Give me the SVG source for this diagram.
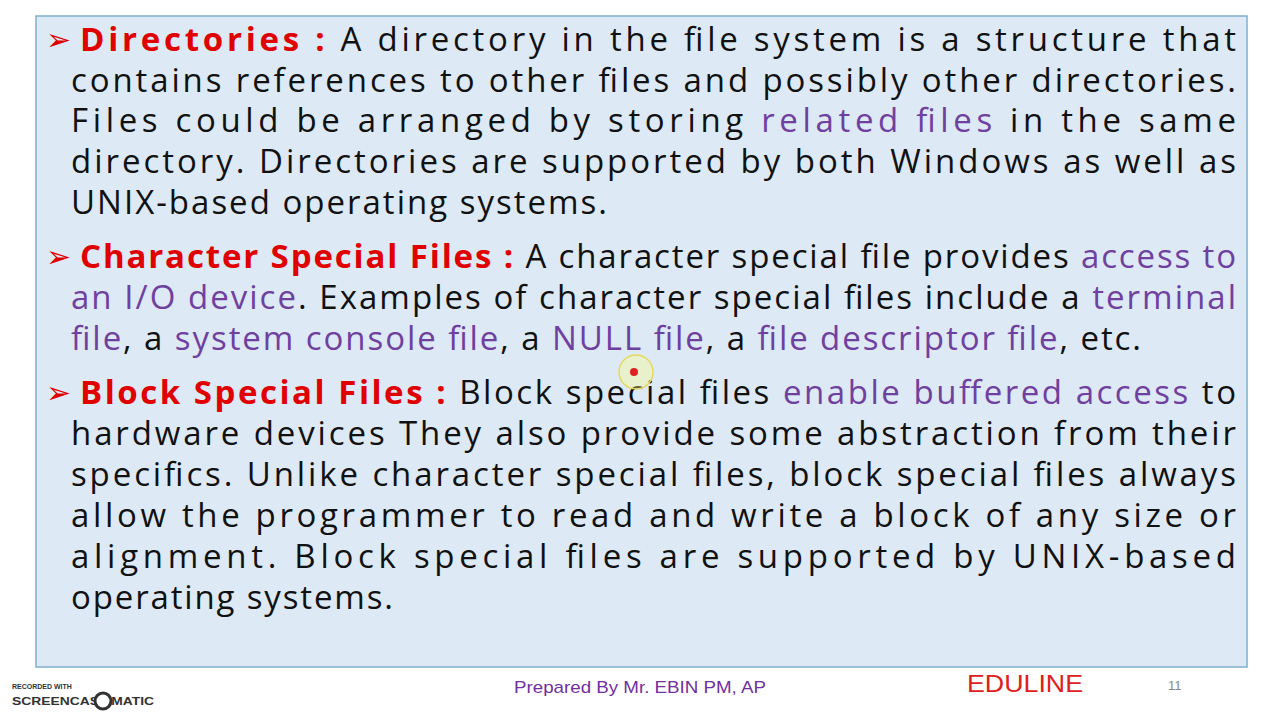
<svg xmlns="http://www.w3.org/2000/svg" width="1280" height="720" viewBox="0 0 1280 720">
<style>
.t{font-family:"Open Sans","Liberation Sans",sans-serif;font-size:33px;fill:#111}
.h{fill:#e00000;font-weight:bold}
.p{fill:#7040a0}
.b{font-family:"DejaVu Sans",sans-serif;font-size:30px;fill:#e00000}
</style>
<rect width="1280" height="720" fill="#fff"/>
<rect x="36" y="16" width="1211" height="651" fill="#dde9f4" stroke="#7fb0cc" stroke-width="1.5"/>
<g id="directories">
<text class="b" x="46" y="50">➢</text>
<text class="t" x="80" y="51" textLength="1156" lengthAdjust="spacing"><tspan class="h">Directories :</tspan> A directory in the file system is a structure that</text>
<text class="t" x="71" y="92" textLength="1165" lengthAdjust="spacing">contains references to other files and possibly other directories.</text>
<text class="t" x="71" y="132" textLength="1165" lengthAdjust="spacing">Files could be arranged by storing <tspan class="p">related files</tspan> in the same</text>
<text class="t" x="71" y="173" textLength="1165" lengthAdjust="spacing">directory. Directories are supported by both Windows as well as</text>
<text class="t" x="71" y="214" textLength="536" lengthAdjust="spacing">UNIX-based operating systems.</text>
</g>
<g id="character">
<text class="b" x="46" y="267">➢</text>
<text class="t" x="80" y="268" textLength="1156" lengthAdjust="spacing"><tspan class="h">Character Special Files :</tspan> A character special file provides <tspan class="p">access to</tspan></text>
<text class="t" x="71" y="309" textLength="1165" lengthAdjust="spacing"><tspan class="p">an I/O device</tspan>. Examples of character special files include a <tspan class="p">terminal</tspan></text>
<text class="t" x="71" y="350" textLength="1070" lengthAdjust="spacing"><tspan class="p">file</tspan>, a <tspan class="p">system console file</tspan>, a <tspan class="p">NULL file</tspan>, a <tspan class="p">file descriptor file</tspan>, etc.</text>
</g>
<g id="block">
<text class="b" x="46" y="403">➢</text>
<text class="t" x="80" y="404" textLength="1156" lengthAdjust="spacing"><tspan class="h">Block Special Files :</tspan> Block special files <tspan class="p">enable buffered access</tspan> to</text>
<text class="t" x="71" y="445" textLength="1165" lengthAdjust="spacing">hardware devices They also provide some abstraction from their</text>
<text class="t" x="71" y="486" textLength="1165" lengthAdjust="spacing">specifics. Unlike character special files, block special files always</text>
<text class="t" x="71" y="527" textLength="1165" lengthAdjust="spacing">allow the programmer to read and write a block of any size or</text>
<text class="t" x="71" y="568" textLength="1165" lengthAdjust="spacing">alignment. Block special files are supported by UNIX-based</text>
<text class="t" x="71" y="609" textLength="322" lengthAdjust="spacing">operating systems.</text>
</g>
<circle cx="636" cy="372" r="17" fill="#ffff80" fill-opacity="0.35" stroke="#e8d860" stroke-width="1.5"/>
<circle cx="634" cy="372" r="4" fill="#e02020"/>
<text x="514" y="693" font-family="Liberation Sans,sans-serif" font-size="17" fill="#7030a0" textLength="252" lengthAdjust="spacingAndGlyphs">Prepared By Mr. EBIN PM, AP</text>
<text x="967" y="692" font-family="Liberation Sans,sans-serif" font-size="24" fill="#e02020" textLength="116" lengthAdjust="spacingAndGlyphs">EDULINE</text>
<text x="1168" y="690" font-family="Liberation Sans,sans-serif" font-size="13" fill="#888">11</text>
<text x="12" y="689" font-family="Liberation Sans,sans-serif" font-size="7" font-weight="bold" fill="#333">RECORDED WITH</text>
<text x="12" y="705" font-family="Liberation Sans,sans-serif" font-size="11" font-weight="bold" fill="#333" textLength="142" lengthAdjust="spacingAndGlyphs">SCREENCAST   MATIC</text>
<circle cx="103" cy="701" r="8" fill="#fff" stroke="#333" stroke-width="3"/>
</svg>
